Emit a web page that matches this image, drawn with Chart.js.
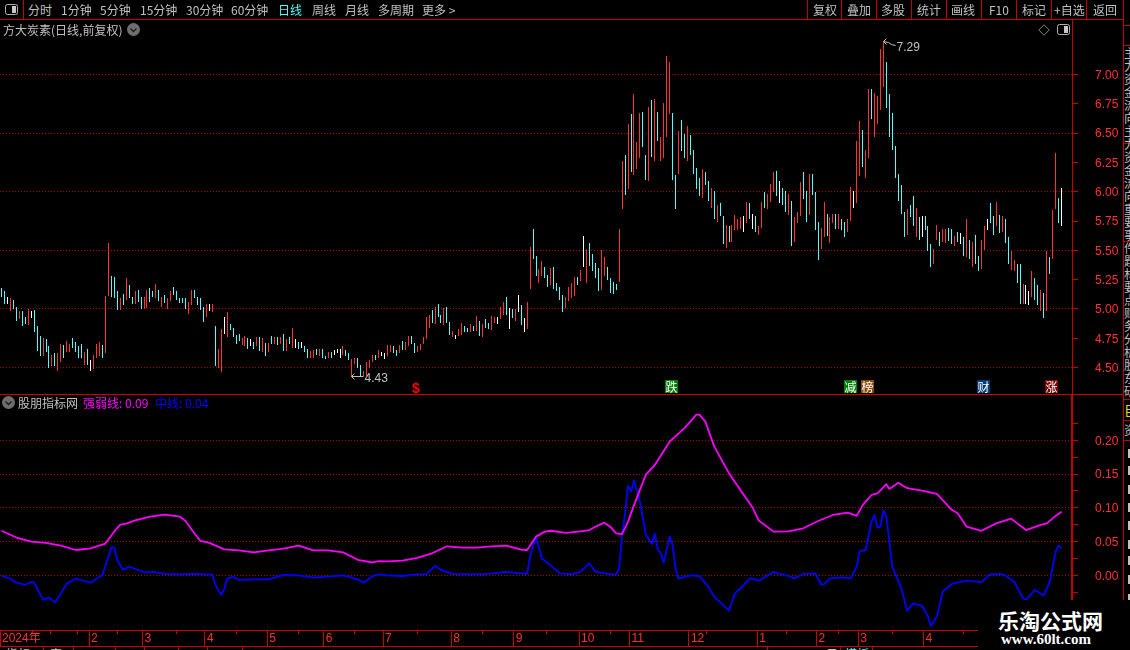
<!DOCTYPE html>
<html lang="zh">
<head>
<meta charset="utf-8">
<title>方大炭素</title>
<script src="https://cdn.jsdelivr.net/npm/chart.js@4"></script>
<style>
html,body{margin:0;padding:0;background:#000;width:1130px;height:650px;overflow:hidden}
body{position:relative;font:12px "Noto Sans CJK SC","Liberation Sans",sans-serif;color:#c0c0c0}
canvas{position:absolute;left:0;display:block}
.t{position:absolute;white-space:nowrap;line-height:14px;height:14px}
.l{position:absolute;background:#c80000}
.tag{position:absolute;top:380px;width:13px;height:13px;line-height:13px;text-align:center;color:#fff;font-size:12px}
#mask{position:absolute;left:978px;top:600px;width:152px;height:50px;background:#000;z-index:5}
</style>
</head>
<body>
<canvas id="priceCanvas" width="1123" height="374" style="top:20px"></canvas>
<canvas id="indCanvas" width="1123" height="251" style="top:395px"></canvas>
<div id="ui"></div>
<div id="mask"></div>
<script>
// ---------- price pane data (one entry per trading day) ----------
const barHigh = [
5.18,5.15,5.10,5.09,5.08,5.02,4.98,4.98,4.93,5.00,
4.98,4.99,4.85,4.77,4.75,4.74,4.68,4.61,4.62,4.62,
4.70,4.69,4.73,4.70,4.75,4.72,4.68,4.70,4.63,4.66,
4.56,4.61,4.70,4.72,4.69,5.11,5.56,5.28,5.27,5.15,
5.09,5.13,5.26,5.20,5.10,5.15,5.16,5.10,5.10,5.16,
5.18,5.15,5.21,5.16,5.10,5.12,5.09,5.15,5.19,5.15,
5.09,5.09,5.09,5.06,5.16,5.16,5.10,5.09,5.02,5.04,
5.04,5.04,4.85,4.66,4.83,4.93,4.97,4.87,4.84,4.78,
4.79,4.75,4.77,4.75,4.74,4.72,4.76,4.76,4.75,4.71,
4.71,4.77,4.76,4.76,4.76,4.79,4.74,4.76,4.84,4.74,
4.72,4.72,4.68,4.66,4.64,4.65,4.66,4.66,4.66,4.60,
4.63,4.63,4.65,4.66,4.66,4.68,4.65,4.62,4.57,4.58,
4.58,4.52,4.47,4.55,4.56,4.61,4.61,4.65,4.63,4.62,
4.69,4.69,4.68,4.65,4.69,4.73,4.72,4.77,4.77,4.71,
4.68,4.70,4.76,4.93,4.95,4.99,5.02,5.04,4.95,5.01,
5.02,4.89,4.81,4.78,4.83,4.88,4.85,4.84,4.87,4.85,
4.94,4.90,4.87,4.91,4.88,4.94,4.93,4.93,5.02,5.06,
5.10,5.01,5.00,5.00,5.12,5.03,4.92,5.06,5.53,5.68,
5.45,5.34,5.41,5.36,5.29,5.35,5.36,5.22,5.19,5.12,
5.10,5.19,5.22,5.27,5.27,5.33,5.62,5.51,5.56,5.47,
5.39,5.35,5.50,5.44,5.36,5.26,5.23,5.21,5.68,6.26,
6.31,6.58,6.66,6.83,6.42,6.67,6.68,6.31,6.72,6.78,
6.79,6.68,6.47,6.76,7.16,7.11,6.67,6.14,6.52,6.61,
6.49,6.56,6.48,6.36,6.20,6.12,6.19,6.17,6.09,6.03,
6.01,5.89,5.90,5.79,5.72,5.71,5.72,5.80,5.77,5.78,
5.79,5.91,5.90,5.81,5.79,5.71,5.91,6.00,5.98,6.07,
6.17,6.18,6.09,6.03,6.01,5.98,5.92,5.78,5.83,6.08,
6.17,6.01,6.15,6.15,6.00,5.74,5.69,5.91,5.81,5.78,
5.81,5.81,5.81,5.77,5.74,5.77,6.04,6.01,6.43,6.60,
6.53,6.36,6.88,6.88,6.84,6.82,7.22,7.29,7.11,6.83,
6.67,6.39,6.15,6.06,5.83,5.85,5.89,5.96,5.86,5.78,
5.79,5.79,5.71,5.55,5.51,5.72,5.66,5.68,5.68,5.69,
5.68,5.62,5.66,5.65,5.61,5.77,5.59,5.57,5.63,5.45,
5.59,5.71,5.77,5.90,5.79,5.91,5.80,5.79,5.77,5.61,
5.49,5.42,5.38,5.38,5.21,5.20,5.15,5.32,5.26,5.20,
5.16,5.14,5.49,5.44,5.84,6.33,5.95,6.03];
const barLow = [
5.10,5.04,5.04,4.98,5.00,4.90,4.91,4.85,4.87,4.86,
4.92,4.80,4.64,4.60,4.60,4.63,4.50,4.51,4.51,4.47,
4.55,4.58,4.63,4.63,4.67,4.63,4.58,4.58,4.52,4.52,
4.47,4.49,4.58,4.60,4.58,4.62,5.11,5.10,5.09,4.99,
4.99,5.03,5.08,5.09,5.04,5.04,5.06,5.00,5.00,5.01,
5.06,5.10,5.09,5.07,5.02,5.05,5.00,5.07,5.12,5.08,
5.05,5.05,5.00,4.96,5.03,5.09,5.03,4.99,4.89,4.93,
4.98,4.97,4.51,4.50,4.46,4.79,4.76,4.82,4.76,4.70,
4.73,4.69,4.68,4.66,4.68,4.66,4.68,4.64,4.63,4.60,
4.63,4.70,4.70,4.69,4.70,4.64,4.64,4.70,4.67,4.67,
4.66,4.67,4.63,4.58,4.58,4.58,4.61,4.60,4.58,4.57,
4.58,4.58,4.61,4.62,4.58,4.61,4.60,4.56,4.43,4.53,
4.50,4.43,4.43,4.43,4.50,4.55,4.56,4.58,4.60,4.57,
4.60,4.63,4.62,4.60,4.62,4.65,4.65,4.68,4.70,4.62,
4.63,4.65,4.70,4.74,4.84,4.88,4.87,4.93,4.88,4.86,
4.88,4.78,4.76,4.74,4.77,4.78,4.80,4.80,4.80,4.81,
4.81,4.77,4.76,4.84,4.83,4.82,4.88,4.87,4.91,4.95,
4.95,4.83,4.92,4.90,4.97,4.86,4.80,4.83,5.17,5.43,
5.28,5.22,5.28,5.26,5.19,5.20,5.17,5.15,5.08,4.97,
5.01,5.07,5.09,5.11,5.20,5.24,5.36,5.22,5.37,5.32,
5.26,5.15,5.16,5.28,5.25,5.14,5.13,5.16,5.23,5.85,
5.97,6.02,6.17,6.14,6.19,6.29,6.38,6.10,6.09,6.30,
6.26,6.43,6.26,6.29,6.47,6.66,6.10,5.85,6.15,6.35,
6.29,6.26,6.31,6.15,6.02,5.96,5.95,6.06,5.92,5.86,
5.77,5.74,5.79,5.55,5.52,5.57,5.57,5.67,5.67,5.68,
5.66,5.73,5.77,5.68,5.66,5.63,5.69,5.86,5.85,5.91,
6.00,5.96,5.90,5.89,5.83,5.80,5.54,5.57,5.73,5.79,
5.94,5.74,5.80,5.97,5.67,5.42,5.51,5.61,5.62,5.56,
5.73,5.68,5.68,5.67,5.61,5.66,5.75,5.86,5.90,6.13,
6.21,6.12,6.29,6.62,6.47,6.58,6.70,6.89,6.71,6.47,
6.36,6.12,5.92,5.81,5.61,5.63,5.78,5.71,5.61,5.59,
5.61,5.67,5.49,5.36,5.38,5.59,5.54,5.57,5.56,5.58,
5.55,5.54,5.57,5.55,5.45,5.44,5.43,5.36,5.38,5.32,
5.34,5.50,5.67,5.73,5.63,5.71,5.65,5.66,5.56,5.38,
5.33,5.32,5.22,5.04,5.04,5.04,5.03,5.10,5.08,5.03,
4.98,4.92,4.98,5.30,5.43,5.85,5.73,5.71];
const barKind = (
"ccwrccrccr"+"wcccrccrcr"+"rcrrccccrc"+"wrrrcrrccc"+"rcrccrccrr"+"ccrcrcrrcc"+"cccrrccccr"+
"wrcrrwrccc"+"crrcwcrcrc"+"rcrcrcrcrw"+"cwccrrcrcc"+"rcwwwrccrr"+"ccrrrrcrww"+"rrccrcrrcc"+
"rrrrrcrccr"+"ccrwrrccrc"+"rcrccrrwrr"+"cwcrwcwrrc"+"crrccrcccc"+"rrrrcrwrcc"+"ccrrccccrr"+
"crcrrrccrc"+"rcrrrrccrc"+"crccccrccr"+"crccrcrrrr"+"wrcwcrrcrr"+"rcwccrcrrr"+"ccrcccrrcr"+
"rcrccrrwrr"+"crrcrrrrcc"+"cccccrccrc"+"wcccrrcrrc"+"crcwcrcrcc"+"rrwccrcrcc"+"rrccrwwrcc"+"rcrcrrcw");

// ---------- indicator pane data, read at selected trading days ----------
const strongDays = [0,5,10,15,20,25,30,35,38,40,42,45,50,55,60,62,65,67,70,75,80,85,90,95,100,105,110,115,120,125,127,
130,135,140,145,150,155,160,165,170,175,177,180,183,185,190,195,198,200,203,205,207,209,211,213,215,217,220,225,230,234,235,237,240,245,250,253,255,257,
260,265,270,275,280,285,288,290,293,295,298,299,302,305,310,315,320,322,325,330,335,340,345,350,352,355,357];
const strongLine = [.066,.056,.050,.048,.044,.0375,.040,.047,.065,.075,.0765,.0815,.087,.090,.087,.0805,.062,.051,.048,.0385,.037,.034,.037,.0395,.044,.037,.037,.034,.023,.019,.021,
.0207,.0217,.026,.0326,.043,.041,.041,.043,.044,.038,.0375,.0573,.0647,.066,.063,.065,.067,.072,.078,.072,.062,.061,.0795,.104,.1265,.149,.1635,.198,.218,.238,.238,.228,.191,.151,.119,.100,.081,.0746,
.0647,.065,.0697,.0805,.0894,.093,.088,.104,.119,.1215,.135,.128,.137,.129,.1255,.1205,.097,.092,.072,.066,.077,.084,.067,.0746,.077,.088,.094];
const midDays = [0,3,5,8,10,11,14,16,18,20,22,25,30,34,36,37,38,39,41,43,48,51,55,60,65,71,72,74,75,76,78,80,85,90,95,100,105,110,115,120,122,125,127,
130,135,140,143,146,148,152,160,165,170,175,177,178,180,182,185,188,192,195,198,200,202,205,207,208,209,210,211,212,213,215,217,219,220,221,222,223,225,226,227,228,232,235,238,240,245,247,250,252,
253,255,260,262,264,267,270,274,276,277,279,283,286,288,289,291,293,294,295,296,297,298,300,303,305,307,310,312,313,315,317,320,325,330,333,336,338,341,344,345,348,351,353,355,356,357];
const midLine = [-.001,-.005,-.011,-.014,-.010,-.011,-.0365,-.033,-.040,-.027,-.012,-.005,-.011,.0005,.0277,.0415,.0415,.022,.008,.013,.0045,.005,.002,.0015,.002,.001,-.014,-.029,-.021,-.005,-.002,-.007,-.006,-.006,.0005,0,-.0035,-.002,0,-.006,-.011,-.001,.0015,
0,-.001,.0015,.0015,.014,.008,.002,.0015,.0025,.005,.003,.002,.0277,.0573,.025,.0143,.003,.0015,.0054,.018,.0054,.004,.0015,.0015,.010,.06,.092,.1324,.124,.141,.109,.06,.0464,.062,.0385,.0326,.0188,.0573,.045,.010,-.005,0,-.001,-.0168,-.0316,-.0524,-.0267,-.0143,-.0044,
-.005,-.008,.005,.002,.0005,-.0044,.002,.003,-.0133,-.0133,-.0044,-.003,-.0044,.0128,.036,.0375,.0795,.09,.0706,.072,.096,.087,.0128,-.0193,-.0524,-.0415,-.0454,-.061,-.075,-.061,-.024,-.0128,-.008,-.010,.0015,.002,0,-.0094,-.034,-.0366,-.0217,-.030,-.0094,.035,.044,.0405];

// ---------- axis data ----------
const priceTicks = [4.5,4.75,5,5.25,5.5,5.75,6,6.25,6.5,6.75,7];
const indTicks = [-.025,0,.025,.05,.075,.1,.125,.15,.175,.2,.225];
const monthDays = [-0.5,29.5,47.5,68.5,89.5,108.5,128.5,151.5,172.5,194.5,211.5,231.5,254.5,274.5,288.5,310.5];
const monthLabels = ["2024年","2","3","4","5","6","7","8","9","10","11","12","1","2","3","4"];
const minorTickDays = [16.5,25.5,39,59,79,100,119,140,162,183.5,205,237.5,264.5,282,300,324];
const extremeDays = [297,118];
const extremeValues = [7.29,4.43];

// ---------- style constants ----------
const RED='#c80000', GRID='#a80000', LABEL='#ff3232';
const KIND={r:'#ff3232',c:'#54fcfc',w:'#ffffff'};
const FONT='"Liberation Sans",sans-serif';
const slotMax=360.5;

const snapBars={id:'snapBars',beforeDatasetsDraw(chart){
  chart.getSortedVisibleDatasetMetas().forEach(m=>{ if(m.type!=='bar')return;
    m.data.forEach(el=>{el.x=Math.floor(el.x)+.5;el.y=Math.round(el.y);el.base=Math.round(el.base);});});
}};
const extremes={id:'extremes',afterDatasetsDraw(chart){
  const c=chart.ctx,X=chart.scales.x,Y=chart.scales.y;
  extremeDays.forEach((d,k)=>{
    const x=Math.floor(X.getPixelForValue(d))+.5,y=Math.round(Y.getPixelForValue(extremeValues[k]))+.5,up=k===0;
    c.save();c.strokeStyle='#c0c0c0';c.fillStyle='#c0c0c0';c.lineWidth=1;c.beginPath();
    c.moveTo(x+3,y-3);c.lineTo(x,y);c.lineTo(x+3,y+3);c.moveTo(x,y);
    if(up){c.lineTo(x+5,y+1);c.lineTo(x+8,y+3);c.lineTo(x+12,y+4);}else{c.lineTo(x+12,y);}
    c.stroke();
    c.font='12px '+FONT;c.textAlign='left';c.textBaseline='middle';
    c.fillText(extremeValues[k].toFixed(2),x+13,up?y+6:y+2);
    c.restore();
  });
}};
const minorTicks={id:'minorTicks',afterDraw(chart){
  const c=chart.ctx,X=chart.scales.x;
  c.save();c.strokeStyle=RED;c.lineWidth=1;c.beginPath();
  minorTickDays.forEach(d=>{const x=Math.floor(X.getPixelForValue(d))+.5;c.moveTo(x,X.top);c.lineTo(x,X.top+4);});
  c.stroke();c.restore();
}};
function yAxis(min,max,ticks,labelled,major,bw){
  return {type:'linear',position:'right',min,max,
    afterBuildTicks(s){s.ticks=ticks.map(v=>({value:v}));},
    afterFit(s){s.width=51;s.paddingTop=0;s.paddingBottom=0;},
    border:{color:RED,width:bw,dash:[1,2]},
    grid:{color:c=>major(c.tick.value)?GRID:'rgba(0,0,0,0)',tickColor:RED,tickLength:6,lineWidth:1,tickBorderDash:[]},
    ticks:{color:LABEL,font:{family:FONT,size:12},padding:17,labelOffset:1,autoSkip:false,
      callback:v=>labelled(v)?Number(v).toFixed(2):''}};
}
const near=(v,s)=>Math.abs(v/s-Math.round(v/s))<1e-6;

new Chart(document.getElementById('priceCanvas'),{
  type:'bar',
  data:{datasets:[{type:'bar',
    data:barHigh.map((h,i)=>({x:i,y:[barLow[i],h]})),
    backgroundColor:barHigh.map((h,i)=>KIND[barKind[i]]),
    barThickness:1,borderWidth:0,borderSkipped:false,inflateAmount:0}]},
  options:{responsive:false,animation:false,devicePixelRatio:1,
    layout:{padding:0},plugins:{legend:{display:false},tooltip:{enabled:false}},
    scales:{
      x:{type:'linear',display:false,min:-.5,max:slotMax,offset:false},
      y:yAxis(4.274,7.465,priceTicks,()=>true,v=>near(v,.5),1)
    }},
  plugins:[snapBars,extremes]
});

new Chart(document.getElementById('indCanvas'),{
  type:'line',
  data:{datasets:[
    {label:'强弱线',data:strongDays.map((d,i)=>({x:d,y:strongLine[i]})),borderColor:'#ff00ff',borderWidth:1.8,pointRadius:0,tension:0,fill:false,borderJoinStyle:'round'},
    {label:'中线',data:midDays.map((d,i)=>({x:d,y:midLine[i]})),borderColor:'#0000ff',borderWidth:1.8,pointRadius:0,tension:0,fill:false,borderJoinStyle:'round'}
  ]},
  options:{responsive:false,animation:false,devicePixelRatio:1,
    layout:{padding:0},plugins:{legend:{display:false},tooltip:{enabled:false}},
    scales:{
      x:{type:'linear',position:'bottom',min:-.5,max:slotMax,offset:false,
        afterBuildTicks(s){s.ticks=monthDays.map(v=>({value:v}));},
        afterFit(s){s.height=16;s.paddingLeft=0;s.paddingRight=0;},
        border:{color:RED,width:1},
        grid:{drawOnChartArea:false,tickColor:RED,tickLength:16},
        ticks:{color:LABEL,font:{family:'"Liberation Sans","Noto Sans CJK SC",sans-serif',size:12},autoSkip:false,maxRotation:0,minRotation:0,align:'start',padding:-15,labelOffset:2,
          callback:(v,i)=>monthLabels[i]}},
      y:yAxis(-.081,.2671,indTicks,v=>v>-.001&&near(v,.05),v=>near(v,.05),2)
    }},
  plugins:[minorTicks]
});

// ---------- application chrome ----------
const ui=document.getElementById('ui');
function T(txt,x,y,col,extra){const e=document.createElement('div');e.className='t';e.textContent=txt;
  e.style.left=x+'px';e.style.top=(y-7)+'px';if(col)e.style.color=col;if(extra)e.style.cssText+=extra;ui.appendChild(e);return e;}
function L(x,y,w,h,col){const e=document.createElement('div');e.className='l';e.style.cssText=`left:${x}px;top:${y}px;width:${w}px;height:${h}px`+(col?`;background:${col}`:'');ui.appendChild(e);return e;}
L(0,19,1123,1);L(0,394,1123,1);L(0,646,978,1);L(23,0,1,19);L(1123,0,1,600);
[807,841,876,911,946,981,1016,1051,1086].forEach(x=>L(x,0,1,19));
[25,45,143,241,338,399,420,440].forEach(y=>L(1123,y,7,1));
[43,73,115,144,178,207,242,767,840,872].forEach(x=>L(x,647,1,3));
[["分时",28],["1分钟",61],["5分钟",100],["15分钟",140],["30分钟",186],["60分钟",231],["日线",278,'#54fcfc'],["周线",312],["月线",345],["多周期",378],["更多 >",422],
 ["复权",813],["叠加",847],["多股",881],["统计",917],["画线",951],["F10",989],["标记",1022],["+自选",1054],["返回",1093]].forEach(a=>T(a[0],a[1],10,a[2]));
T("方大炭素(日线,前复权)",3,30);
T("股朋指标网",18,403);
T("强弱线: 0.09",83,403,'#ff00ff');
T("中线: 0.04",155,403,'#0000ff');
function svg(x,y,w,h,inner){const e=document.createElementNS('http://www.w3.org/2000/svg','svg');e.setAttribute('width',w);e.setAttribute('height',h);
  e.style.cssText=`position:absolute;left:${x}px;top:${y}px`;e.innerHTML=inner;ui.appendChild(e);}
const chev='<circle cx="6.5" cy="6.5" r="6.5" fill="#6e6e6e"/><path d="M3.5 5.5L6.5 8.5L9.5 5.5" fill="none" stroke="#1c1c1c" stroke-width="1.3"/>';
svg(127,23,13,13,chev);svg(2,396,13,13,chev);
svg(5,4,14,12,'<rect x=".5" y=".5" width="12" height="10" rx="2" fill="none" stroke="#b0b0b0"/><rect x="7" y="2" width="4" height="7" fill="#c8c8c8"/>');
svg(1038,24,12,12,'<path d="M6 .8L11.2 6L6 11.2L.8 6Z" fill="none" stroke="#808080"/>');
svg(1057,24,14,12,'<rect x=".5" y=".5" width="12" height="10" rx="2" fill="none" stroke="#b0b0b0"/><rect x="7" y="2" width="4" height="7" fill="#c8c8c8"/>');
// event tags
[["跌",665,'#008000'],["减",844,'#008000'],["榜",861,'#8b4a08'],["财",977,'#003c78'],["涨",1045,'#800000']].forEach(a=>{
  const e=document.createElement('div');e.className='tag';e.textContent=a[0];e.style.left=a[1]+'px';e.style.background=a[2];ui.appendChild(e);});
T("$",412,387,'#ff0000','font:bold 14px "Liberation Sans"');
// clipped side panel on the right edge and bottom row
const side=document.createElement('div');
side.style.cssText='position:absolute;left:1124px;top:46px;width:6px;height:353px;overflow:hidden;font-size:12px;line-height:13px;color:#c0c0c0;white-space:pre';
side.textContent="主\n力\n资\n金\n流\n向\n主\n力\n资\n金\n流\n向\n重\n要\n事\n件\n题\n材\n要\n点\n财\n务\n分\n析\n股\n东\n研";
ui.appendChild(side);
T("目",1124,410,'#e0e000','font-size:14px;width:6px;overflow:hidden');
T("资",1124,430,'#c0c0c0','width:6px;overflow:hidden');
[449,466,485,503,521,540,556,575,594].forEach(y=>L(1128,y,2,9,'#c0c0c0'));
const bot=document.createElement('div');bot.style.cssText='position:absolute;left:0;top:647px;width:978px;height:3px;overflow:hidden;font-size:12px;line-height:14px;color:#c0c0c0';
bot.innerHTML='<span style="position:absolute;left:6px">指标</span><span style="position:absolute;left:50px">窗</span><span style="position:absolute;left:826px">日</span><span style="position:absolute;left:845px;color:#54fcfc">模板</span>';
ui.appendChild(bot);
// watermark
const mk=document.getElementById('mask');
mk.innerHTML='<div style="position:absolute;left:20px;top:8px;font:bold 21px/24px \'Noto Sans CJK SC\';color:#fff;white-space:nowrap">乐淘公式网</div>'+
 '<div style="position:absolute;left:23px;top:31px;font:bold 15px/16px \'Liberation Serif\';color:#fff;white-space:nowrap">www.60lt.com</div>';
</script>
</body>
</html>
